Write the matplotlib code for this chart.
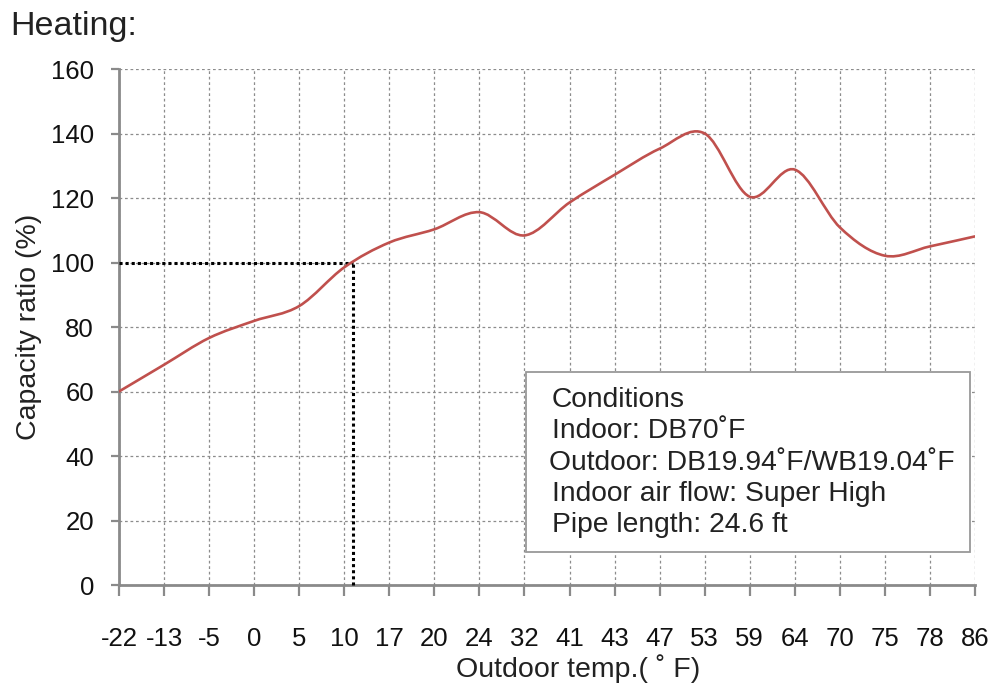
import matplotlib.pyplot as plt
import numpy as np
from matplotlib.path import Path
from matplotlib.patches import PathPatch, Rectangle

plt.rcParams['font.family'] = ['Liberation Sans', 'DejaVu Sans']

# Data
temps = ['-22', '-13', '-5', '0', '5', '10', '17', '20', '24', '32',
         '41', '43', '47', '53', '59', '64', '70', '75', '78', '86']
capacity = [60, 68.3, 76.6, 81.9, 86.5, 98.5, 106.2, 110.3, 115.6, 108.4,
            118.6, 127.2, 135.3, 140, 120.4, 128.8, 110.9, 102.1, 105, 108.1]

ref_value = 100
ref_pos = 5.2  # position of 100% crossing on the category axis

conditions = ['Conditions',
              'Indoor: DB70˚F',
              'Outdoor: DB19.94˚F/WB19.04˚F',
              'Indoor air flow: Super High',
              'Pipe length: 24.6 ft']

fig = plt.figure(figsize=(9.94, 6.88), dpi=100)
ax = fig.add_axes([0.1197, 0.1497, 0.8612, 0.75])

x = np.arange(len(temps))
pts = np.column_stack([x, capacity]).astype(float)

# smooth line (Catmull-Rom style bezier, like a spreadsheet "smoothed line")
verts = [pts[0]]
codes = [Path.MOVETO]
n = len(pts)
for i in range(n - 1):
    p0 = pts[max(i - 1, 0)]
    p1 = pts[i]
    p2 = pts[i + 1]
    p3 = pts[min(i + 2, n - 1)]
    c1 = p1 + (p2 - p0) / 6.0
    c2 = p2 - (p3 - p1) / 6.0
    verts += [c1, c2, p2]
    codes += [Path.CURVE4] * 3
curve = PathPatch(Path(verts, codes), facecolor='none', edgecolor='#c0504d',
                  linewidth=1.9, zorder=4, capstyle='round')
ax.add_patch(curve)

# reference dotted lines
ax.plot([0, ref_pos], [ref_value, ref_value], color='black', linestyle=(0, (1, 1)),
        linewidth=2.2, zorder=3, clip_on=False)
ax.plot([ref_pos, ref_pos], [0, ref_value], color='black', linestyle=(0, (1, 1)),
        linewidth=2.2, zorder=3, clip_on=False)

ax.set_xlim(0, len(temps) - 1)
ax.set_ylim(0, 160)
ax.set_xticks(x)
ax.set_xticklabels(temps)
ax.set_yticks(np.arange(0, 161, 20))

ax.grid(True, color='#8c8c8c', linestyle=(0, (2.2, 2.2)), linewidth=0.9)
ax.set_axisbelow(True)

for s in ['top', 'right']:
    ax.spines[s].set_visible(False)
for s in ['left', 'bottom']:
    ax.spines[s].set_color('#8a8a8a')
    ax.spines[s].set_linewidth(2.0)

ax.tick_params(axis='x', length=8, width=1.6, color='#8a8a8a', pad=22,
               labelsize=18.5, labelcolor='#111111')
ax.tick_params(axis='y', length=6, width=1.6, color='#8a8a8a', pad=12,
               labelsize=18.5, labelcolor='#111111')

ax.set_xlabel('Outdoor temp.( ˚ F)', fontsize=20.5, color='#222222')
ax.xaxis.set_label_coords(0.536, -0.135)
ax.set_ylabel('Capacity ratio (%)', fontsize=20.5, color='#222222')
ax.yaxis.set_label_coords(-0.09, 0.5)

# conditions box
box = Rectangle((0.4749, 0.0639), 0.5187, 0.3488, transform=ax.transAxes,
                facecolor='white', edgecolor='#999999', linewidth=1.3, zorder=5)
ax.add_patch(box)
line_y = [0.3590, 0.2980, 0.2360, 0.1760, 0.1160]
line_x = [0.5058, 0.5058, 0.5023, 0.5058, 0.5058]
for lx, ly, txt in zip(line_x, line_y, conditions):
    ax.text(lx, ly, txt, transform=ax.transAxes, fontsize=20.3, color='#222222',
            va='center', ha='left', zorder=6)

fig.text(0.01, 0.962, 'Heating:', fontsize=24.5, color='#222222', va='center', ha='left')

fig.savefig('out.png', dpi=100)
